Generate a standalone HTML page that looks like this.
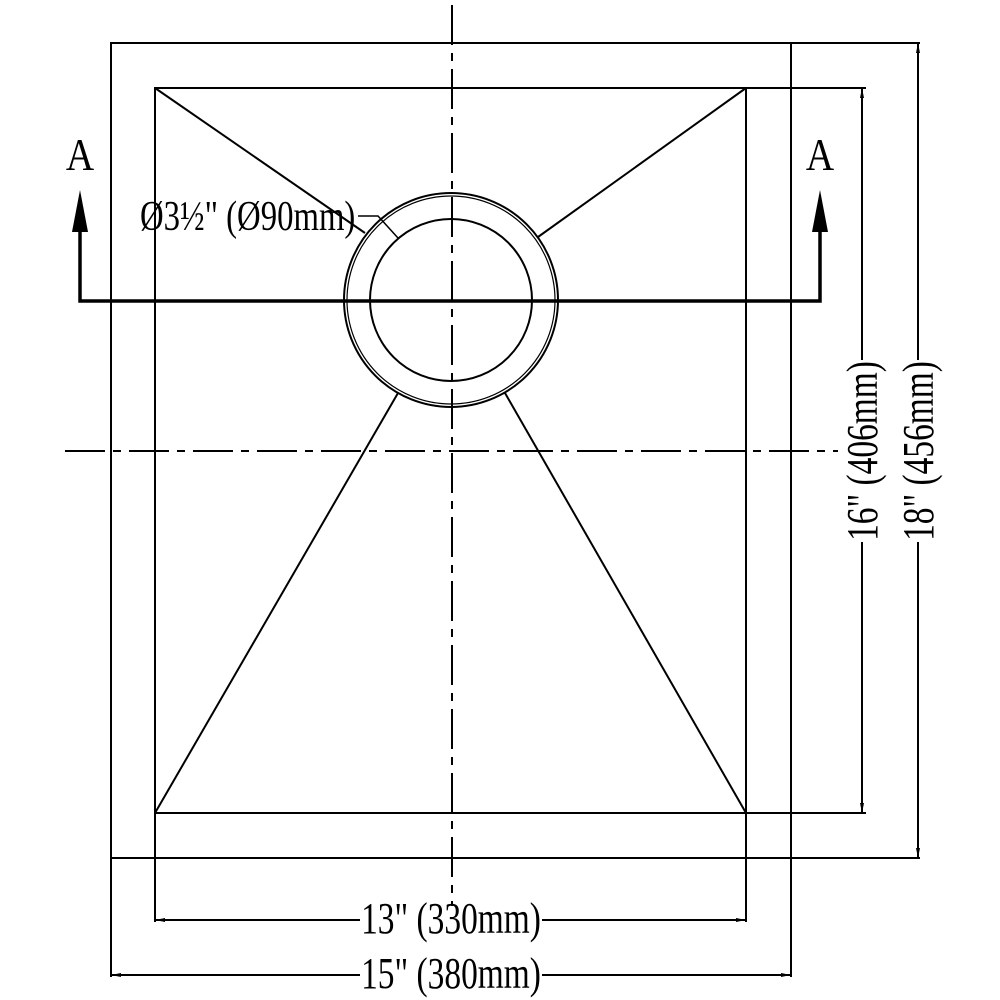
<!DOCTYPE html>
<html><head><style>html,body{margin:0;padding:0;background:#fff}svg{display:block}
text{font-family:"Liberation Serif",serif;fill:#000}</style></head><body>
<svg width="1000" height="1000" viewBox="0 0 1000 1000" xmlns="http://www.w3.org/2000/svg">
<g stroke="#000" fill="none" stroke-width="2">
<rect x="111" y="43" width="680" height="815"/>
<rect x="155" y="88" width="591" height="725"/>
<line x1="155" y1="88" x2="365" y2="233"/>
<line x1="746" y1="88" x2="538" y2="237"/>
<line x1="155" y1="813" x2="398" y2="393"/>
<line x1="746" y1="813" x2="505" y2="393"/>
<circle cx="451" cy="300" r="107"/>
<circle cx="451" cy="300" r="104" stroke-width="1.2"/>
<circle cx="451" cy="300" r="81"/>
<line x1="452" y1="5" x2="452" y2="906" stroke-dasharray="40,8,8,8"/>
<line x1="65" y1="451" x2="838" y2="451" stroke-dasharray="40,8,8,8"/>
<polyline points="80,232 80,301 820,301 820,232" stroke-width="3.5"/>
<polyline points="358,216 378,216 398,238" stroke-width="1.5"/>
<line x1="791" y1="43" x2="920" y2="43"/>
<line x1="746" y1="88" x2="866" y2="88"/>
<line x1="746" y1="813" x2="866" y2="813"/>
<line x1="791" y1="858" x2="920" y2="858"/>
<line x1="111" y1="858" x2="111" y2="977"/>
<line x1="155" y1="813" x2="155" y2="922"/>
<line x1="746" y1="813" x2="746" y2="922"/>
<line x1="791" y1="858" x2="791" y2="977"/>
<line x1="862" y1="88" x2="862" y2="360"/><line x1="862" y1="542" x2="862" y2="813"/>
<line x1="918" y1="43" x2="918" y2="360"/><line x1="918" y1="542" x2="918" y2="858"/>
<line x1="155" y1="920" x2="360" y2="920"/><line x1="542" y1="920" x2="746" y2="920"/>
<line x1="111" y1="975" x2="360" y2="975"/><line x1="542" y1="975" x2="791" y2="975"/>
</g>
<g fill="#000">
<polygon points="72,232 88,232 80,190"/>
<polygon points="812,232 828,232 820,190"/>
<polygon points="862,88 860,98 864,98"/><polygon points="862,813 860,803 864,803"/>
<polygon points="918,43 916,53 920,53"/><polygon points="918,858 916,848 920,848"/>
<polygon points="155,920 165,918 165,922"/><polygon points="746,920 736,918 736,922"/>
<polygon points="111,975 121,973 121,977"/><polygon points="791,975 781,973 781,977"/>
</g>
<text transform="translate(80,170) scale(0.85,1)" font-size="46" text-anchor="middle">A</text>
<text transform="translate(820,170) scale(0.85,1)" font-size="46" text-anchor="middle">A</text>
<text transform="translate(140,230) scale(0.78,1)" font-size="42">Ø3½" (Ø90mm)</text>
<text transform="translate(451,933) scale(0.76,1)" font-size="44" text-anchor="middle">13" (330mm)</text>
<text transform="translate(451,988) scale(0.76,1)" font-size="44" text-anchor="middle">15" (380mm)</text>
<text transform="translate(877,451) rotate(-90) scale(0.76,1)" font-size="44" text-anchor="middle">16" (406mm)</text>
<text transform="translate(933,451) rotate(-90) scale(0.76,1)" font-size="44" text-anchor="middle">18" (456mm)</text>
</svg>
</body></html>
